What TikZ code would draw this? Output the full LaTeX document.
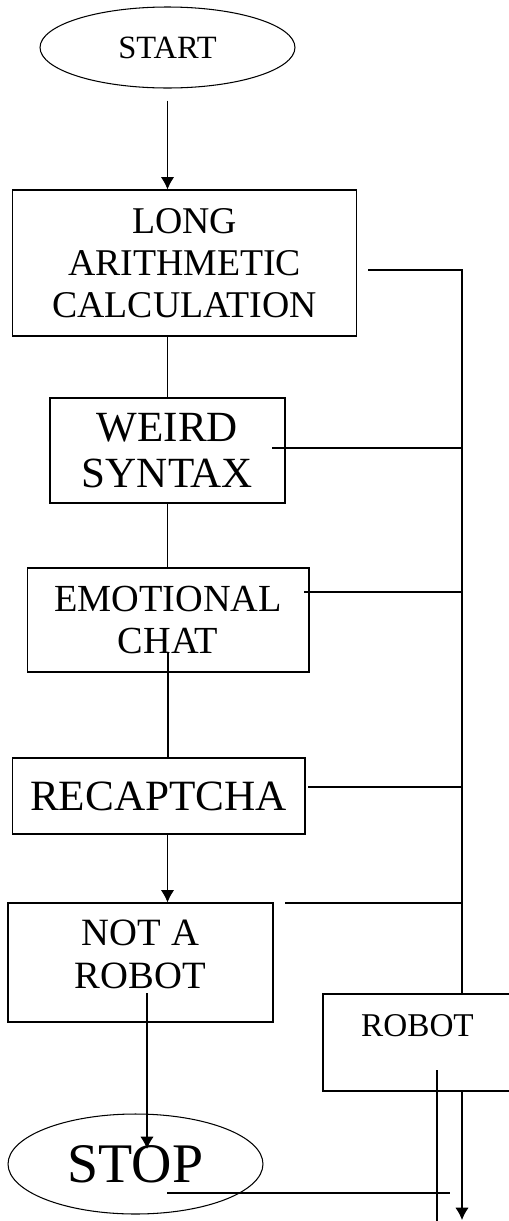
\documentclass[tikz,border=0pt]{standalone}
\usepackage{fontspec}
\setmainfont{Liberation Serif}
\usetikzlibrary{shapes.geometric}
\usetikzlibrary{arrows.meta}
\newcommand{\boxfont}[2]{\fontsize{#1}{#2}\selectfont}

\begin{document}
\begin{tikzpicture}[x=0.02cm, y=-0.02cm, line width=0.6pt,
		terminal/.style={ellipse, draw, inner sep=0pt},
		stepbox/.style={rectangle, draw, align=center, inner sep=0pt},
		flow/.style={-{Latex[length=7pt,width=7.5pt]}}]
	\useasboundingbox (0, 0) rectangle (509, 1221);
	% Nodes:
	\node[terminal, minimum width=5.1cm, minimum height=1.62cm, font=\boxfont{18.5}{22}] (start) at (167.5, 47.5) {START};
	\node[stepbox, minimum width=6.9cm, minimum height=2.92cm, font=\boxfont{21.5}{23.9}] (long) at (184.5, 263) {LONG\\ARITHMETIC\\CALCULATION};
	\node[stepbox, minimum width=4.7cm, minimum height=2.1cm, font=\boxfont{24.5}{26.1}] (weird) at (167.5, 450.5) {WEIRD\\SYNTAX};
	\node[stepbox, minimum width=5.64cm, minimum height=2.08cm, font=\boxfont{21.8}{23.9}] (emo) at (168, 620) {EMOTIONAL\\CHAT};
	\node[stepbox, minimum width=5.86cm, minimum height=1.52cm, font=\boxfont{24.6}{27}] (recap) at (158.5, 796) {RECAPTCHA};
	\node[stepbox, minimum width=5.3cm, minimum height=2.38cm, text depth=0.34cm, font=\boxfont{22}{24.4}] (notrobot) at (140.5, 962.5) {NOT A\\ROBOT};
	\node[terminal, minimum width=5.1cm, minimum height=2cm, font=\boxfont{31.8}{34}] (stop) at (135.5, 1164) {STOP};
	\node[stepbox, minimum width=3.78cm, minimum height=1.94cm, text depth=0.68cm, font=\boxfont{18.9}{22}] (robot) at (417.5, 1042.5) {ROBOT};
	% Loose ends of the wires:
	\coordinate (bus) at (462, 270);
	\coordinate (long out) at (368, 270);
	\coordinate (weird out) at (272, 448);
	\coordinate (emo out) at (304, 592);
	\coordinate (recap out) at (308, 787);
	\coordinate (nr side) at (285, 903);
	\coordinate (nr out) at (147, 993);
	\coordinate (stop in) at (147, 1149);
	\coordinate (stop out) at (167, 1193);
	\coordinate (stop end) at (450, 1193);
	\coordinate (robot tail) at (437, 1070);
	\coordinate (robot foot) at (437, 1225);
	\coordinate (exit) at (462, 1220);
	% Main column:
	\draw[flow] ([yshift=-0.24cm]start.south) -- (start.south |- long.north);
	\draw (long.south -| weird.north) -- (weird.north);
	\draw (weird.south) -- (weird.south |- emo.north);
	\draw ([yshift=-0.64cm]emo.center) -- (emo.center |- recap.north);
	\draw[flow] (start.south |- recap.south) -- (start.south |- notrobot.north);
	\draw[flow] (nr out) -- (stop in);
	% Side bus:
	\draw (long out) -- (bus) -- (bus |- robot.north);
	\draw (weird out) -- (weird out -| bus);
	\draw (emo out) -- (emo out -| bus);
	\draw (recap out) -- (recap out -| bus);
	\draw (nr side) -- (nr side -| bus);
	\draw (stop out) -- (stop end);
	\draw (robot tail) -- (robot foot);
	\draw[flow] (bus |- robot.south) -- (exit);
\end{tikzpicture}
\end{document}
